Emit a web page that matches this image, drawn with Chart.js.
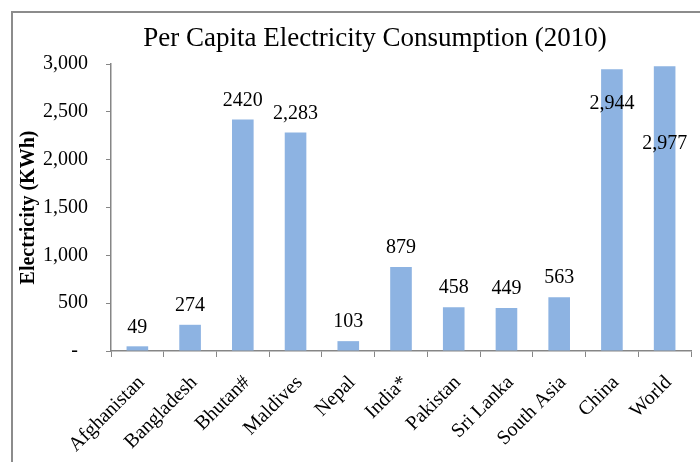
<!DOCTYPE html>
<html>
<head>
<meta charset="utf-8">
<script src="https://cdn.jsdelivr.net/npm/chart.js@4/dist/chart.umd.min.js"></script>
<style>
  html, body { margin: 0; padding: 0; width: 700px; height: 462px; overflow: hidden; background: #fff; }
  #wrap { position: absolute; left: 0; top: 0; width: 750px; height: 462px; }
  #frame { position: absolute; left: 11px; top: 11px; width: 800px; height: 520px; border: 2px solid #8c8c8c; pointer-events: none; box-sizing: border-box; }
</style>
</head>
<body>
<div id="wrap"><canvas id="c" width="750" height="462"></canvas></div>
<div id="frame"></div>
<script>
const categories = ["Afghanistan", "Bangladesh", "Bhutan#", "Maldives", "Nepal", "India*", "Pakistan", "Sri Lanka", "South Asia", "China", "World"];
const consumption = [49, 274, 2420, 2283, 103, 879, 458, 449, 563, 2944, 2977];
const valueLabels = ["49", "274", "2420", "2,283", "103", "879", "458", "449", "563", "2,944", "2,977"];
const yTickValues = [0, 500, 1000, 1500, 2000, 2500, 3000];
const yTickLabels = ["-  ", "500", "1,000", "1,500", "2,000", "2,500", "3,000"];

const SERIF = "'Liberation Serif', 'Times New Roman', serif";
const AXIS_GREY = '#868686';
// vertical offset of each value label relative to its bar top (negative = above)
const labelShift = [-19, -19, -19, -19, -19, -19, -19, -19, -19, 34, 78];

const valueLabelPlugin = {
  id: 'valueLabels',
  afterDatasetsDraw(chart) {
    const ctx = chart.ctx;
    const meta = chart.getDatasetMeta(0);
    ctx.save();
    ctx.font = '20px ' + SERIF;
    ctx.fillStyle = '#000';
    ctx.textAlign = 'center';
    ctx.textBaseline = 'middle';
    meta.data.forEach((bar, i) => {
      ctx.fillText(valueLabels[i], bar.x, bar.y + labelShift[i]);
    });
    ctx.restore();
  }
};

// centre the title over the whole framed chart object rather than the canvas
const titleCenterPlugin = {
  id: 'titleCenter',
  afterLayout(chart) {
    if (chart.titleBlock) { chart.titleBlock.left = 59; }
  }
};

new Chart(document.getElementById('c'), {
  type: 'bar',
  data: {
    labels: categories,
    datasets: [{
      data: consumption,
      backgroundColor: '#8DB3E2',
      borderWidth: 0,
      barPercentage: 0.82,
      categoryPercentage: 0.5
    }]
  },
  options: {
    responsive: false,
    animation: false,
    layout: { padding: { left: 0, right: 59, top: 0, bottom: 0 } },
    plugins: {
      legend: { display: false },
      tooltip: { enabled: false },
      title: {
        display: true,
        text: 'Per Capita Electricity Consumption (2010)',
        color: '#000',
        font: { family: SERIF, size: 27, weight: 'normal', lineHeight: 1.2 },
        padding: { top: 23, bottom: 8.6 }
      }
    },
    scales: {
      x: {
        grid: { display: true, drawOnChartArea: false, drawTicks: true, tickLength: 6, color: AXIS_GREY, offset: true },
        border: { display: true, color: AXIS_GREY, width: 1.5 },
        ticks: { color: '#000', font: { family: SERIF, size: 20 }, minRotation: 45, maxRotation: 45, padding: 14, labelOffset: 4, autoSkip: false },
        afterFit(scale) { scale.height = 111; }
      },
      y: {
        min: 0,
        max: 3000,
        afterBuildTicks(scale) { scale.ticks = yTickValues.map(v => ({ value: v })); },
        grid: { display: true, drawOnChartArea: false, drawTicks: true, tickLength: 5, color: AXIS_GREY },
        border: { display: true, color: AXIS_GREY, width: 1.5 },
        ticks: {
          color: '#000',
          font: { family: SERIF, size: 20 },
          padding: 18,
          callback(value) { const i = yTickValues.indexOf(value); return i >= 0 ? yTickLabels[i] : ''; }
        },
        title: {
          display: true,
          text: 'Electricity (KWh)',
          color: '#000',
          font: { family: SERIF, size: 20, weight: 'bold', lineHeight: 1.2 },
          padding: { top: 17, bottom: 0 }
        },
        afterFit(scale) { scale.width = 111; }
      }
    }
  },
  plugins: [valueLabelPlugin, titleCenterPlugin]
});
</script>
</body>
</html>
